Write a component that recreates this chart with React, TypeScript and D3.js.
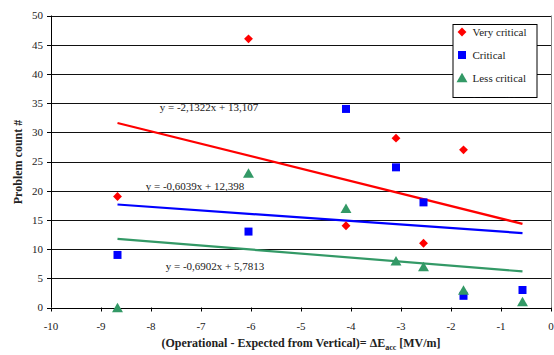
import React from "react";
import * as d3 from "d3";

const veryX = [-8.67, -6.05, -4.1, -3.1, -2.55, -1.75];
const veryY = [19, 46, 14, 29, 11, 27];
const critX = [-8.67, -6.05, -4.1, -3.1, -2.55, -1.75, -0.57];
const critY = [9, 13, 34, 24, 18, 2, 3];
const lessX = [-8.67, -6.05, -4.1, -3.1, -2.55, -1.75, -0.57];
const lessY = [0, 23, 17, 8, 7, 3, 1];

const trendNames = ["Very critical", "Critical", "Less critical"];
const trendSlopes = [-2.1322, -0.6039, -0.6902];
const trendIntercepts = [13.107, 12.398, 5.7813];
const trendLabels = ["y = -2,1322x + 13,107", "y = -0,6039x + 12,398", "y = -0,6902x + 5,7813"];
const labelX = [-6.84, -7.12, -6.72];
const labelY = [33.6, 20.1, 6.4];
const trendRange = [-8.67, -0.57];

const xTicks = [-10, -9, -8, -7, -6, -5, -4, -3, -2, -1, 0];
const yTicks = [0, 5, 10, 15, 20, 25, 30, 35, 40, 45, 50];

const colors = ["#ff0000", "#0000ff", "#339966"];
const FONT = "'Liberation Serif', 'Times New Roman', serif";

export default function App() {
  const W = 554, H = 355;
  const x = d3.scaleLinear().domain([-10, 0]).range([51, 551]);
  const y = d3.scaleLinear().domain([0, 50]).range([307.5, 15.5]);

  const diamond = d3.symbol().type(d3.symbolDiamond2).size(50)() as string;
  const square = d3.symbol().type(d3.symbolSquare).size(64)() as string;
  const triangle = d3.symbol().type(d3.symbolTriangle).size(52)() as string;
  const symbols = [diamond, square, triangle];
  const series = [
    { xs: veryX, ys: veryY },
    { xs: critX, ys: critY },
    { xs: lessX, ys: lessY },
  ];

  return (
    <svg width={W} height={H} style={{ display: "block", position: "absolute", left: 0, top: 0 }} fontFamily={FONT}>
      <rect width={W} height={H} fill="#fff" />
      {/* gridlines */}
      {yTicks.filter((t) => t > 0).map((t) => (
        <line key={t} x1={x(-10)} x2={x(0)} y1={Math.round(y(t)) + 0.5} y2={Math.round(y(t)) + 0.5} stroke="#111" strokeWidth={1} />
      ))}
      {/* right border */}
      <line x1={x(0) + 0.5} x2={x(0) + 0.5} y1={y(50)} y2={y(0)} stroke="#888" />
      {/* axes */}
      <line x1={x(-10) + 0.5} x2={x(-10) + 0.5} y1={y(50)} y2={y(0)} stroke="#000" />
      <line x1={x(-10)} x2={x(0)} y1={Math.round(y(0)) + 0.5} y2={Math.round(y(0)) + 0.5} stroke="#000" />
      {yTicks.map((t) => (
        <g key={t}>
          <line x1={x(-10) - 4} x2={x(-10)} y1={Math.round(y(t)) + 0.5} y2={Math.round(y(t)) + 0.5} stroke="#000" />
          <text x={43} y={y(t)} dy="0.35em" textAnchor="end" fontSize={11} fill="#222">{t}</text>
        </g>
      ))}
      {xTicks.map((t) => (
        <g key={t}>
          <line x1={Math.round(x(t)) + 0.5} x2={Math.round(x(t)) + 0.5} y1={y(0)} y2={y(0) + 4} stroke="#000" />
          <text x={x(t)} y={326.5} dy="0.35em" textAnchor="middle" fontSize={11} fill="#222">{t}</text>
        </g>
      ))}
      {/* trend lines */}
      {trendSlopes.map((m, i) => (
        <path key={i} d={d3.line<number>().x((d) => x(d)).y((d) => y(m * d + trendIntercepts[i]))(trendRange) as string}
          stroke={colors[i]} strokeWidth={2.2} fill="none" />
      ))}
      {/* points */}
      {series.map((s, si) =>
        s.xs.map((xv, i) => (
          <path key={si + "-" + i} d={symbols[si]} transform={`translate(${x(xv)},${y(s.ys[i]) + (si === 2 ? 1.5 : 0)})`} fill={colors[si]} />
        ))
      )}
      {/* equation labels */}
      {trendLabels.map((l, i) => (
        <text key={i} x={x(labelX[i])} y={y(labelY[i])} textAnchor="middle" fontSize={11} fill="#222">{l}</text>
      ))}
      {/* legend */}
      <defs>
        <clipPath id="legclip">
          <rect x={453} y={24.5} width={84.5} height={73} />
        </clipPath>
      </defs>
      <rect x={453} y={24.5} width={84} height={73} fill="#fff" stroke="#000" />
      <g clipPath="url(#legclip)">
        {trendNames.map((n, i) => (
          <g key={n} transform={`translate(0,${32 + i * 23})`}>
            <path d={symbols[i]} transform={`translate(462,${i === 2 ? 1 : 0})`} fill={colors[i]} />
            <text x={472.5} y={0} dy="0.35em" fontSize={11} fill="#222">{n}</text>
          </g>
        ))}
        <g transform="translate(0,100)">
          <line x1={456} x2={468} y1={0} y2={0} stroke="#ff0000" strokeWidth={2} />
          <text x={472.5} y={0} dy="0.35em" fontSize={11} fill="#222">Linear (Very critical)</text>
        </g>
      </g>
      {/* axis titles */}
      <text transform="translate(22,162) rotate(-90)" textAnchor="middle" fontSize={12} fontWeight="bold" fill="#222">Problem count #</text>
      <text x={301} y={347} textAnchor="middle" fontSize={12} fontWeight="bold" fill="#222">
        (Operational - Expected from Vertical)= ΔE<tspan fontSize={8} dy={3}>acc</tspan><tspan dy={-3}> [MV/m]</tspan>
      </text>
    </svg>
  );
}
